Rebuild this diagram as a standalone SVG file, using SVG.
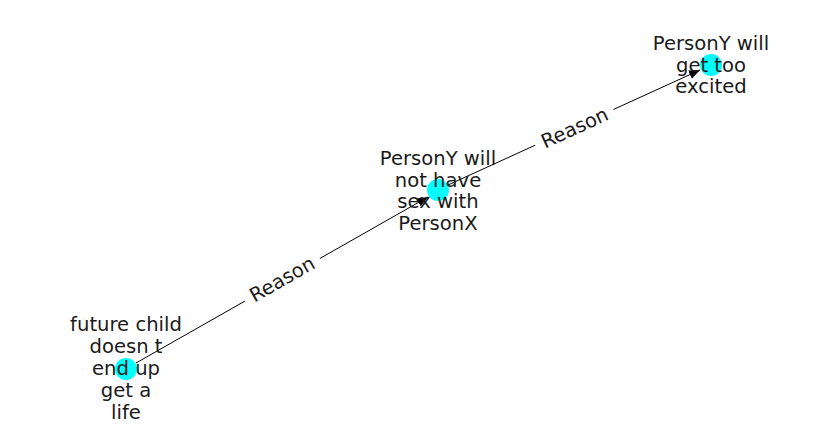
<svg xmlns="http://www.w3.org/2000/svg" width="837" height="434" viewBox="0 0 837 434">
<style>
.node{fill:#00ffff;}
.edge{stroke:#000;stroke-width:1;fill:none;}
.lbl{font-family:"DejaVu Sans",sans-serif;font-size:19.6px;fill:#1a1a1a;text-anchor:middle;}
.bg{fill:#fff;}
</style>
<defs>
<marker id="ah" markerWidth="12" markerHeight="10" refX="11" refY="4.5" orient="auto" markerUnits="userSpaceOnUse">
<path d="M0,0 L11,4.5 L0,9 Z" fill="#000"/>
</marker>
</defs>
<rect width="837" height="434" fill="#fff"/>
<g id="nodes-circles">
<circle class="node" cx="711" cy="65" r="11"/>
<circle class="node" cx="438" cy="190" r="11"/>
<circle class="node" cx="126" cy="369" r="11"/>
</g>
<g id="connectors">
<line class="edge" x1="136" y1="363" x2="428" y2="197" marker-end="url(#ah)"/>
<line class="edge" x1="448" y1="185" x2="700" y2="70" marker-end="url(#ah)"/>
<g transform="translate(282,279) rotate(-29.85)">
<rect class="bg" x="-43" y="-13" width="86" height="26"/>
<text class="lbl" x="0" y="7">Reason</text>
</g>
<g transform="translate(574.5,127.5) rotate(-24.6)">
<rect class="bg" x="-43" y="-13" width="86" height="26"/>
<text class="lbl" x="0" y="7">Reason</text>
</g>
</g>
<g id="n1">
<text class="lbl"><tspan x="711" y="50">PersonY will</tspan><tspan x="711" y="71.5">get too</tspan><tspan x="711" y="93">excited</tspan></text>
</g>
<g id="n2">
<text class="lbl"><tspan x="438" y="165">PersonY will</tspan><tspan x="438" y="186.7">not have</tspan><tspan x="438" y="208.4">sex with</tspan><tspan x="438" y="230">PersonX</tspan></text>
</g>
<g id="n3">
<text class="lbl"><tspan x="126" y="330.7">future child</tspan><tspan x="126" y="352.8">doesn t</tspan><tspan x="126" y="374.9">end up</tspan><tspan x="126" y="397">get a</tspan><tspan x="126" y="419">life</tspan></text>
</g>
</svg>
